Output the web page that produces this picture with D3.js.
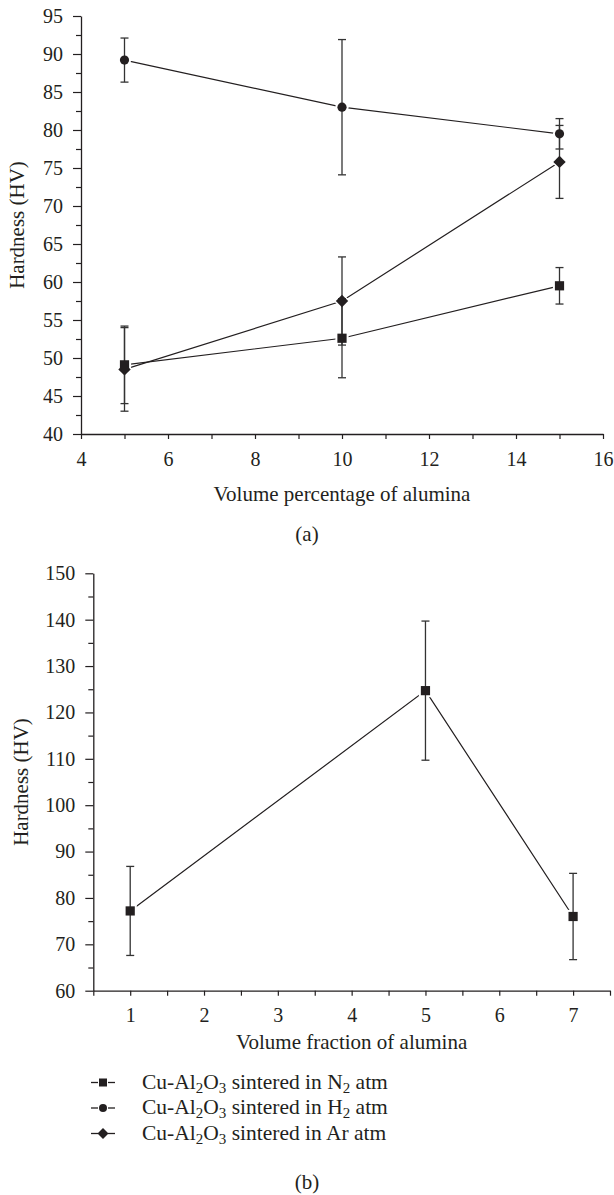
<!DOCTYPE html>
<html>
<head>
<meta charset="utf-8">
<script src="https://cdn.jsdelivr.net/npm/d3@7"></script>
<style>
  html, body { margin: 0; padding: 0; background: #fff; }
  svg { display: block; }
</style>
</head>
<body>
<svg id="chart" width="614" height="1195"></svg>
<script>
// ---------- data ----------
const xA = [5, 10, 15];
const n2A = [49.1, 52.6, 59.5];
const n2AErr = [5.1, 5.2, 2.4];
const h2A = [89.2, 83.0, 79.5];
const h2AErr = [2.9, 8.9, 2.0];
const arA = [48.5, 57.5, 75.8];
const arAErr = [5.5, 5.8, 4.8];

const xB = [1, 5, 7];
const n2B = [77.2, 124.7, 76.0];
const n2BErr = [9.6, 15.0, 9.3];

const xTicksA = [4, 6, 8, 10, 12, 14, 16];
const yTicksA = [40, 45, 50, 55, 60, 65, 70, 75, 80, 85, 90, 95];
const xTicksB = [1, 2, 3, 4, 5, 6, 7];
const yTicksB = [60, 70, 80, 90, 100, 110, 120, 130, 140, 150];

const legendLabels = [
  { pre: "Cu-Al", s1: "2", mid: "O", s2: "3", post: " sintered in N", s3: "2", tail: " atm", shape: "square" },
  { pre: "Cu-Al", s1: "2", mid: "O", s2: "3", post: " sintered in H", s3: "2", tail: " atm", shape: "circle" },
  { pre: "Cu-Al", s1: "2", mid: "O", s2: "3", post: " sintered in Ar atm", s3: "", tail: "", shape: "diamond" }
];

// ---------- helpers ----------
const FONT = "'Liberation Serif', 'DejaVu Serif', serif";
const svg = d3.select("#chart").attr("font-family", FONT);
const INK = "#231f20";

function drawMarker(g, shape, cx, cy, halo) {
  const extra = halo ? 2 : 0;
  const fill = halo ? "#fff" : INK;
  if (shape === "circle") {
    g.append("circle").attr("cx", cx).attr("cy", cy).attr("r", 4.6 + extra).attr("fill", fill);
  } else if (shape === "square") {
    const h = 4.6 + extra;
    g.append("rect").attr("x", cx - h).attr("y", cy - h).attr("width", 2 * h).attr("height", 2 * h).attr("fill", fill);
  } else {
    const h = 6.2 + extra;
    g.append("path").attr("d", `M${cx},${cy - h}L${cx + h},${cy}L${cx},${cy + h}L${cx - h},${cy}Z`).attr("fill", fill);
  }
}

function panel(cfg) {
  const g = svg.append("g");
  const x = d3.scaleLinear().domain(cfg.xDomain).range([cfg.left, cfg.right]);
  const y = d3.scaleLinear().domain(cfg.yDomain).range([cfg.bottom, cfg.top]);
  const fmt = d3.format("d");

  // minor ticks
  g.append("g").attr("transform", `translate(${cfg.left},0)`)
    .call(d3.axisLeft(y).tickValues(cfg.yMinor).tickSize(5).tickSizeOuter(0).tickFormat(""))
    .call(s => s.select(".domain").remove())
    .call(s => s.selectAll("line").attr("stroke", INK).attr("stroke-width", 1.2));
  g.append("g").attr("transform", `translate(0,${cfg.bottom})`)
    .call(d3.axisBottom(x).tickValues(cfg.xMinor).tickSize(5).tickSizeOuter(0).tickFormat(""))
    .call(s => s.select(".domain").remove())
    .call(s => s.selectAll("line").attr("stroke", INK).attr("stroke-width", 1.2));

  // major axes
  const ya = g.append("g").attr("transform", `translate(${cfg.left},0)`)
    .call(d3.axisLeft(y).tickValues(cfg.yTicks).tickFormat(fmt).tickSize(8).tickSizeOuter(0).tickPadding(10));
  const xa = g.append("g").attr("transform", `translate(0,${cfg.bottom})`)
    .call(d3.axisBottom(x).tickValues(cfg.xTicks).tickFormat(fmt).tickSize(5).tickSizeOuter(0).tickPadding(13));
  [ya, xa].forEach(a => {
    a.attr("font-family", FONT);
    a.select(".domain").attr("stroke", INK).attr("stroke-width", 1.3);
    a.selectAll("line").attr("stroke", INK).attr("stroke-width", 1.2);
    a.selectAll("text").attr("font-size", 20).attr("fill", INK);
  });
  xa.selectAll("text").attr("dy", "0.68em");

  // titles
  g.append("text").attr("x", (cfg.left + cfg.right) / 2).attr("y", cfg.bottom + cfg.xTitleOff)
    .attr("text-anchor", "middle").attr("font-size", 21).attr("fill", INK).text(cfg.xTitle);
  g.append("text").attr("transform", `translate(${cfg.yTitleX},${(cfg.top + cfg.bottom) / 2}) rotate(-90)`)
    .attr("text-anchor", "middle").attr("font-size", 21).attr("fill", INK).text("Hardness (HV)");
  g.append("text").attr("x", 307).attr("y", cfg.capY)
    .attr("text-anchor", "middle").attr("font-size", 21).attr("fill", INK).text(cfg.caption);

  // series
  const line = d3.line().x(d => x(d[0])).y(d => y(d[1]));
  cfg.series.forEach(s => {
    const pts = s.xs.map((v, i) => [v, s.ys[i]]);
    g.append("path").datum(pts).attr("d", line).attr("fill", "none").attr("stroke", INK).attr("stroke-width", 1.2);
  });
  cfg.series.forEach(s => {
    s.xs.forEach((v, i) => drawMarker(g, s.shape, x(v), y(s.ys[i]), true));
  });
  cfg.series.forEach(s => {
    s.xs.forEach((v, i) => {
      const cx = x(v), y1 = y(s.ys[i] + s.err[i]), y2 = y(s.ys[i] - s.err[i]);
      const eg = g.append("g").attr("stroke", "#333").attr("stroke-width", 1.3);
      eg.append("line").attr("x1", cx).attr("x2", cx).attr("y1", y1).attr("y2", y2);
      eg.append("line").attr("x1", cx - 4).attr("x2", cx + 4).attr("y1", y1).attr("y2", y1);
      eg.append("line").attr("x1", cx - 4).attr("x2", cx + 4).attr("y1", y2).attr("y2", y2);
    });
  });
  cfg.series.forEach(s => {
    s.xs.forEach((v, i) => drawMarker(g, s.shape, x(v), y(s.ys[i]), false));
  });
}

panel({
  left: 81, right: 603, top: 16, bottom: 434,
  xDomain: [4, 16], yDomain: [40, 95],
  xTicks: xTicksA, yTicks: yTicksA,
  xMinor: [5, 7, 9, 11, 13, 15], yMinor: [42.5, 47.5, 52.5, 57.5, 62.5, 67.5, 72.5, 77.5, 82.5, 87.5, 92.5],
  xTitle: "Volume percentage of alumina", xTitleOff: 67, yTitleX: 24,
  caption: "(a)", capY: 541,
  series: [
    { xs: xA, ys: n2A, err: n2AErr, shape: "square" },
    { xs: xA, ys: h2A, err: h2AErr, shape: "circle" },
    { xs: xA, ys: arA, err: arAErr, shape: "diamond" }
  ]
});

panel({
  left: 93.3, right: 610, top: 573.3, bottom: 990.7,
  xDomain: [0.5, 7.5], yDomain: [60, 150],
  xTicks: xTicksB, yTicks: yTicksB,
  xMinor: [0.5, 1.5, 2.5, 3.5, 4.5, 5.5, 6.5, 7.5], yMinor: [65, 75, 85, 95, 105, 115, 125, 135, 145],
  xTitle: "Volume fraction of alumina", xTitleOff: 58, yTitleX: 28,
  caption: "(b)", capY: 1189,
  series: [
    { xs: xB, ys: n2B, err: n2BErr, shape: "square" }
  ]
});

// legend
const lg = svg.append("g");
legendLabels.forEach((d, i) => {
  const cy = 1082.5 + i * 25.5;
  lg.append("line").attr("x1", 91).attr("x2", 98).attr("y1", cy).attr("y2", cy).attr("stroke", INK).attr("stroke-width", 1.3);
  lg.append("line").attr("x1", 108).attr("x2", 115).attr("y1", cy).attr("y2", cy).attr("stroke", INK).attr("stroke-width", 1.3);
  const g = lg.append("g");
  if (d.shape === "circle") g.append("circle").attr("cx", 103).attr("cy", cy).attr("r", 4).attr("fill", INK);
  else if (d.shape === "square") g.append("rect").attr("x", 99).attr("y", cy - 4).attr("width", 8).attr("height", 8).attr("fill", INK);
  else g.append("path").attr("d", `M103,${cy - 5.5}L108.5,${cy}L103,${cy + 5.5}L97.5,${cy}Z`).attr("fill", INK);
  const t = lg.append("text").attr("x", 142).attr("y", cy + 6).attr("font-size", 21.5).attr("fill", INK);
  t.append("tspan").text(d.pre);
  t.append("tspan").attr("font-size", 15).attr("dy", 4).text(d.s1);
  t.append("tspan").attr("dy", -4).text(d.mid);
  t.append("tspan").attr("font-size", 15).attr("dy", 4).text(d.s2);
  t.append("tspan").attr("dy", -4).text(d.post);
  if (d.s3) {
    t.append("tspan").attr("font-size", 15).attr("dy", 4).text(d.s3);
    t.append("tspan").attr("dy", -4).text(d.tail);
  }
});
</script>
</body>
</html>
